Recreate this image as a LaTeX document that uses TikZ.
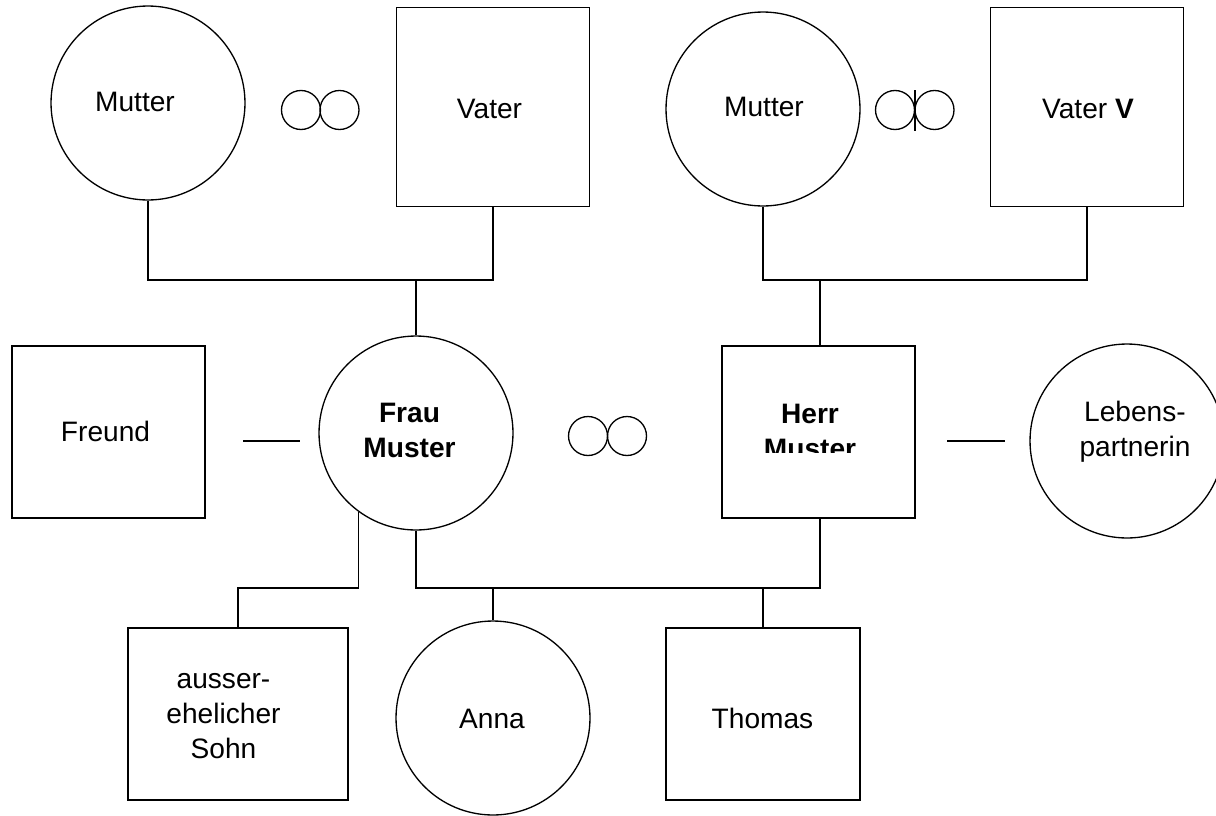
\documentclass[tikz,border=0pt]{standalone}
\usepackage{fontspec}
\setmainfont{Liberation Sans}
\begin{document}
\begin{tikzpicture}[x=0.02cm,y=-0.02cm,line width=0.75pt,
  txt/.style={font=\fontsize{16}{19.8}\selectfont,align=center,inner sep=0,anchor=base},
  person/.style={draw,circle,inner sep=0,minimum size=3.88cm},
  man/.style={draw,rectangle,inner sep=0,minimum width=3.86cm,minimum height=3.44cm},
  ring/.style={draw,circle,inner sep=0,minimum size=0.78cm}]
\clip (0,0) rectangle (1216,815);
\useasboundingbox (0,0) rectangle (1216,815);
% top-left parents
\node[person] (m1) at (148,103) {};
\node[txt] (m1t) at (135,111) {Mutter};
\node[man,minimum height=3.98cm] (v1) at (493,107) {};
\node[txt] (v1t) at (489.5,118) {Vater};
\node[ring] (r1a) at (301,110) {};
\node[ring] (r1b) at (339.5,110) {};
% top-right parents
\node[person] (m2) at (763,109) {};
\node[txt] (m2t) at (764,116) {Mutter};
\node[man,minimum height=3.98cm] (v2) at (1087,107) {};
\node[txt] (v2t) at (1088,118) {Vater \textbf{V}};
\node[ring] (r2a) at (895,110) {};
\node[ring] (r2b) at (934.5,110) {};
\coordinate (s2t) at (915,90);
\coordinate (s2b) at (915,131);
\draw (s2t) -- (s2b);
% middle row
\node[man] (fr) at (108.5,432) {};
\node[txt] (frt) at (105.5,441) {Freund};
\node[person] (fm) at (416,433) {};
\node[txt] (fmt) at (409.5,457) {\textbf{Frau}\\\textbf{Muster}};
\node[ring] (r3a) at (588,436) {};
\node[ring] (r3b) at (627,436) {};
\node[man] (hm) at (818.5,432) {};
\begin{scope}
\clip (722,346) rectangle (915,452);
\node[txt] (hmt) at (810,458) {\textbf{Herr}\\\textbf{Muster}};
\end{scope}
\node[person] (lp) at (1127,441) {};
\node[txt] (lpt) at (1135,456) {Lebens-\\partnerin};
\coordinate (d1a) at (243,441);
\coordinate (d1b) at (300,441);
\coordinate (d2a) at (947,441);
\coordinate (d2b) at (1005,441);
\draw (d1a) -- (d1b);
\draw (d2a) -- (d2b);
% children
\node[man,minimum width=4.4cm] (so) at (238,714) {};
\node[txt] (sot) at (223.5,758) {ausser-\\ehelicher\\Sohn};
\node[person] (an) at (493,718) {};
\node[txt] (ant) at (492,728) {Anna};
\node[man,minimum width=3.88cm] (th) at (763,714) {};
\node[txt] (tht) at (762.5,728) {Thomas};
% connectors
\coordinate (j1) at (416,280);
\coordinate (j2) at (820,280);
\coordinate (j3) at (416,588);
\coordinate (j4) at (820,588);
\draw (m1.south) |- (v1.south |- j1) -- (v1.south);
\draw (j1) -- (fm.north);
\draw (m2.south) |- (v2.south |- j2) -- (v2.south);
\draw (j2) -- (hm.north -| j2);
\draw (fm.south) -- (j3) -- (j4) -- (hm.south -| j4);
\draw (an.north |- j3) -- (an.north);
\draw (th.north |- j3) -- (th.north);
\draw (fm.234.7) |- (so.north |- j3) -- (so.north);
\end{tikzpicture}
\end{document}
